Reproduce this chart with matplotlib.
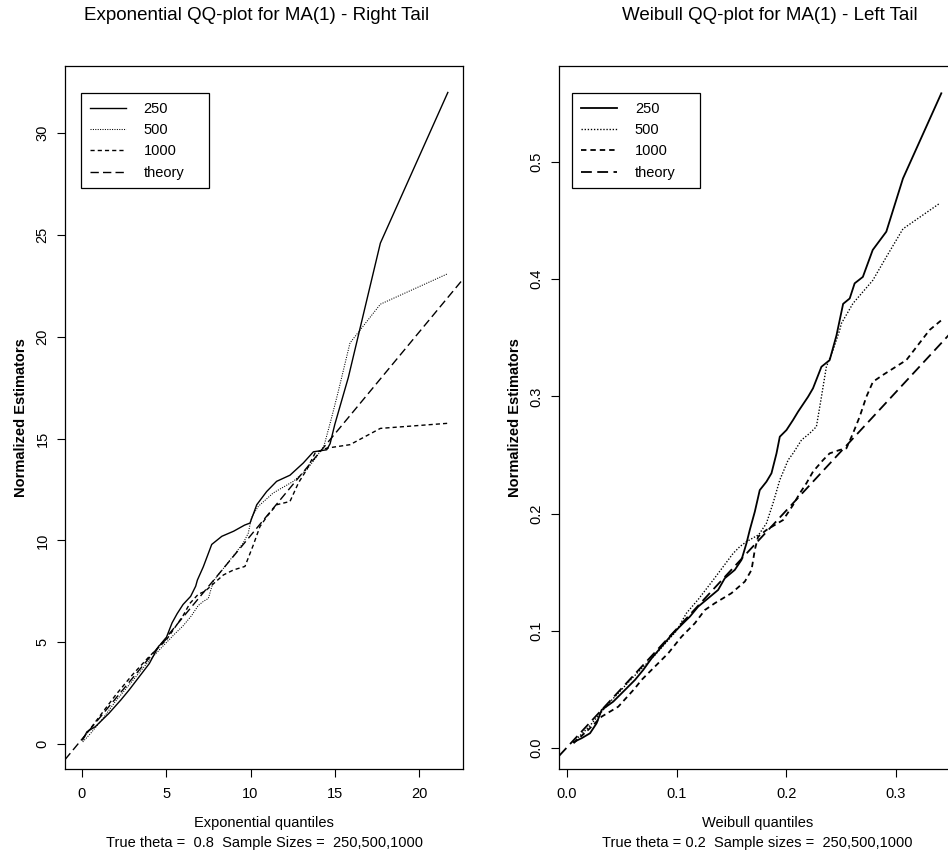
import matplotlib.pyplot as plt

plt.rcParams["font.family"] = ["Liberation Sans", "DejaVu Sans"]

# ---- values ----
# left panel: exponential quantiles vs normalized estimators (right tail)
EXP_Q_250 = [0.05, 0.3, 0.8, 1.6, 2.3, 2.8, 3.4, 4.0, 4.55, 4.95, 5.35, 5.65,
             6.0, 6.45, 6.75, 6.85, 7.2, 7.7, 8.3, 9.0, 9.65, 9.97, 10.37,
             10.96, 11.55, 12.34, 13.13, 13.73, 14.52, 14.72, 15.0, 15.8,
             17.7, 21.7]
EXP_EST_250 = [0.2, 0.6, 0.85, 1.5, 2.15, 2.65, 3.3, 3.95, 4.8, 5.1, 5.95, 6.4,
               6.85, 7.25, 7.75, 8.05, 8.7, 9.8, 10.2, 10.45, 10.75, 10.85,
               11.75, 12.4, 12.9, 13.2, 13.8, 14.35, 14.45, 14.75, 15.7, 18.0,
               24.6, 32.0]
EXP_Q_500 = [0.05, 0.5, 1.2, 2.0, 3.0, 4.0, 4.8, 5.5, 6.0, 6.5, 6.9, 7.2, 7.5,
             7.8, 8.8, 9.57, 9.87, 10.05, 10.46, 11.35, 12.54, 13.33, 13.93,
             14.35, 14.8, 15.2, 15.9, 17.7, 21.7]
EXP_EST_500 = [0.1, 0.5, 1.2, 2.1, 3.1, 4.1, 4.8, 5.4, 5.8, 6.3, 6.8, 7.0, 7.15,
               8.0, 9.05, 9.87, 10.36, 11.1, 11.67, 12.33, 12.9, 13.47, 14.12,
               14.62, 16.0, 17.3, 19.7, 21.6, 23.1]
EXP_Q_1000 = [0.05, 1.0, 2.0, 3.0, 4.0, 5.0, 5.5, 6.0, 6.4, 6.9, 7.3, 8.39, 9.0,
              9.67, 10.17, 10.56, 11.0, 11.55, 12.34, 12.84, 13.33, 13.83,
              14.52, 15.9, 17.7, 21.7]
EXP_EST_1000 = [0.25, 1.3, 2.4, 3.4, 4.3, 5.1, 5.7, 6.3, 6.9, 7.35, 7.5, 8.3,
                8.55, 8.72, 9.78, 10.68, 11.2, 11.75, 11.91, 12.82, 13.47,
                14.29, 14.53, 14.7, 15.5, 15.75]
EXP_THEORY = (0.23, 1.0)  # intercept, slope

# right panel: weibull quantiles vs normalized estimators (left tail)
WEI_Q_250 = [0.006, 0.0134, 0.021, 0.027, 0.0316, 0.0422, 0.0513, 0.062,
             0.0696, 0.0772, 0.0863, 0.0954, 0.106, 0.1121, 0.1197, 0.1288,
             0.1379, 0.144, 0.1531, 0.1592, 0.1638, 0.1668, 0.1714, 0.1759,
             0.182, 0.1866, 0.1912, 0.1942, 0.2003, 0.2063, 0.2109, 0.22,
             0.2245, 0.2322, 0.2397, 0.2459, 0.252, 0.258, 0.2625, 0.27, 0.279,
             0.2914, 0.3066, 0.3416]
WEI_EST_250 = [0.005, 0.0083, 0.0125, 0.021, 0.0324, 0.0395, 0.048, 0.058,
               0.0666, 0.0765, 0.0864, 0.0964, 0.1064, 0.112, 0.1206, 0.1277,
               0.1348, 0.1448, 0.1519, 0.1604, 0.1747, 0.186, 0.2016, 0.22,
               0.2272, 0.2344, 0.2514, 0.2656, 0.2713, 0.2799, 0.287, 0.2997,
               0.3069, 0.3253, 0.331, 0.352, 0.379, 0.3836, 0.3965, 0.402,
               0.425, 0.4406, 0.486, 0.5587]
WEI_Q_500 = [0.006, 0.02, 0.04, 0.06, 0.08, 0.1, 0.109, 0.12, 0.1334, 0.1516,
             0.1577, 0.1638, 0.175, 0.182, 0.188, 0.1942, 0.2018, 0.2063,
             0.214, 0.2215, 0.2276, 0.2322, 0.2367, 0.2428, 0.2489, 0.2504,
             0.261, 0.279, 0.2914, 0.3066, 0.34]
WEI_EST_500 = [0.005, 0.018, 0.04, 0.06, 0.079, 0.1, 0.115, 0.127, 0.1433,
               0.166, 0.1718, 0.176, 0.182, 0.1917, 0.2088, 0.2287, 0.2457,
               0.2514, 0.2628, 0.2685, 0.2742, 0.2997, 0.3253, 0.3396, 0.3567,
               0.3623, 0.3794, 0.399, 0.419, 0.443, 0.4647]
WEI_Q_1000 = [0.006, 0.02, 0.0316, 0.0468, 0.062, 0.068, 0.0802, 0.0924,
              0.1046, 0.1167, 0.1258, 0.1349, 0.15, 0.1623, 0.1684, 0.1714,
              0.1744, 0.182, 0.1972, 0.2063, 0.2124, 0.2185, 0.2245, 0.2337,
              0.2397, 0.2489, 0.255, 0.261, 0.2671, 0.2732, 0.2792, 0.2883,
              0.3097, 0.3309, 0.3416]
WEI_EST_1000 = [0.004, 0.016, 0.0267, 0.0352, 0.0509, 0.058, 0.0694, 0.0808,
                0.095, 0.1064, 0.1177, 0.1235, 0.132, 0.142, 0.1519, 0.169,
                0.1803, 0.186, 0.1945, 0.2073, 0.2173, 0.2259, 0.2358, 0.2457,
                0.2514, 0.2543, 0.2557, 0.2685, 0.2827, 0.2997, 0.3125, 0.3183,
                0.331, 0.3567, 0.365]
WEI_THEORY = (0.0005, 1.01)

LABELS = ["250", "500", "1000", "theory"]
EXP_XTICKS = [0, 5, 10, 15, 20]
EXP_YTICKS = [0, 5, 10, 15, 20, 25, 30]
WEI_XTICKS = [0.0, 0.1, 0.2, 0.3]
WEI_YTICKS = [0.0, 0.1, 0.2, 0.3, 0.4, 0.5]

STYLES = {
    "250": dict(ls="-"),
    "500": dict(ls=(0, (1, 1.3))),
    "1000": dict(ls=(0, (3, 2.2))),
    "theory": dict(ls=(0, (6, 3))),
}


def draw_panel(ax, curves, theory, xticks, yticks, xlim, ylim, fmt,
               title, title_x, xlabel, note, lw, leg_x):
    for lab, (q, est) in zip(LABELS[:3], curves):
        w = lw * 0.75 if lab == "500" else lw
        ax.plot(q, est, color="black", lw=w, label=lab, **STYLES[lab])
    ax.axline((0, theory[0]), slope=theory[1], color="black", lw=lw,
              label="theory", **STYLES["theory"])

    ax.set_xlim(*xlim)
    ax.set_ylim(*ylim)
    ax.set_xticks(xticks)
    ax.set_xticklabels([fmt(v) for v in xticks])
    ax.set_yticks(yticks)
    ax.set_yticklabels([fmt(v) for v in yticks], rotation=90, va="center")
    ax.tick_params(direction="out", length=6, width=0.8, labelsize=10.5,
                   color="black")
    ax.tick_params(axis="x", pad=7)
    ax.tick_params(axis="y", pad=5)
    for s in ax.spines.values():
        s.set_linewidth(0.9)

    ax.text(0.5, -0.077, xlabel, transform=ax.transAxes, ha="center",
            va="center", fontsize=10.5)
    ax.text(0.5, -0.105, note, transform=ax.transAxes, ha="center",
            va="center", fontsize=10.5)
    ax.text(-0.11, 0.5, "Normalized Estimators", transform=ax.transAxes,
            rotation=90, ha="center", va="center", fontsize=10.5,
            fontweight="bold")
    ax.text(title_x, 1.0 + 51 / 703, title, transform=ax.transAxes,
            ha="center", va="center", fontsize=13.5)

    leg = ax.legend(loc="upper left",
                    bbox_to_anchor=(leg_x, 0.9616 - 0.14, 128 / 398, 0.14),
                    mode="expand", borderaxespad=0, fontsize=10.5,
                    handlelength=2.5, handletextpad=1.2, labelspacing=0.5,
                    borderpad=0.6, fancybox=False, framealpha=1,
                    edgecolor="black")
    leg.get_frame().set_linewidth(0.9)


fig = plt.figure(figsize=(9.48, 8.6), dpi=100)
ax1 = fig.add_axes([65 / 948, 1 - 769 / 860, 398 / 948, 703 / 860])
ax2 = fig.add_axes([559 / 948, 1 - 769 / 860, 397 / 948, 703 / 860])

draw_panel(ax1,
           [(EXP_Q_250, EXP_EST_250), (EXP_Q_500, EXP_EST_500),
            (EXP_Q_1000, EXP_EST_1000)],
           EXP_THEORY, EXP_XTICKS, EXP_YTICKS, (-1.0, 22.6), (-1.23, 33.3),
           lambda v: f"{v:g}",
           "Exponential QQ-plot for MA(1) - Right Tail", 0.482,
           "Exponential quantiles",
           "True theta =  0.8  Sample Sizes =  250,500,1000",
           1.0, 0.040)

draw_panel(ax2,
           [(WEI_Q_250, WEI_EST_250), (WEI_Q_500, WEI_EST_500),
            (WEI_Q_1000, WEI_EST_1000)],
           WEI_THEORY, WEI_XTICKS, WEI_YTICKS, (-0.0073, 0.355), (-0.018, 0.582),
           lambda v: f"{v:.1f}",
           "Weibull QQ-plot for MA(1) - Left Tail", 0.53,
           "Weibull quantiles",
           "True theta = 0.2  Sample sizes =  250,500,1000",
           1.3, 0.033)

fig.savefig("out.png", dpi=100)
